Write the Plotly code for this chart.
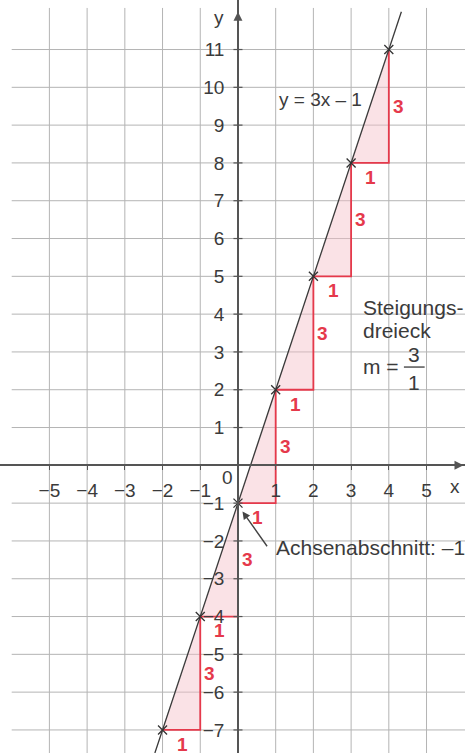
import plotly.graph_objects as go

# Linear function y = m*x + b
slope = 3
intercept = -1

# Points marked on the line and the slope triangles starting at each of them
point_x = [-2, -1, 0, 1, 2, 3, 4]
point_y = [-7, -4, -1, 2, 5, 8, 11]
triangle_start_x = [-2, -1, 0, 1, 2, 3]
triangle_start_y = [-7, -4, -1, 2, 5, 8]
run_label = "1"
rise_label = "3"

# Axis ticks
x_tick_vals = [-5, -4, -3, -2, -1, 1, 2, 3, 4, 5]
x_tick_text = ["−5", "−4", "−3", "−2", "−1", "1", "2", "3", "4", "5"]
y_tick_vals = [11, 10, 9, 8, 7, 6, 5, 4, 3, 2, 1, -1, -2, -3, -4, -5, -6, -7]
y_tick_text = ["11", "10", "9", "8", "7", "6", "5", "4", "3", "2", "1",
               "−1", "−2", "−3", "−4", "−5", "−6", "−7"]

X_RANGE = [-6.31, 6.02]
Y_RANGE = [-7.61, 12.31]

FONT = "Liberation Sans, Arial, sans-serif"
TEXT = "#3b3b3b"
RED = "#e5394b"
PINK = "rgba(244, 190, 200, 0.45)"
GRID = "#b4b4b4"
AXIS = "#555555"

fig = go.Figure()

# Square grid: horizontal lines start at x = -6, vertical lines reach y = 12.1
shapes = []
for gy in range(-7, 12):
    if gy == 0:
        continue
    shapes.append(dict(type="line", xref="x", yref="y", x0=-6, x1=X_RANGE[1],
                       y0=gy, y1=gy, line=dict(color=GRID, width=1), layer="below"))
for gx in range(-5, 6):
    if gx == 0:
        continue
    shapes.append(dict(type="line", xref="x", yref="y", x0=gx, x1=gx,
                       y0=Y_RANGE[0], y1=12.1, line=dict(color=GRID, width=1), layer="below"))

# Short tick marks crossing the y axis
for ty in y_tick_vals:
    shapes.append(dict(type="line", xref="x", yref="y", x0=-0.12, x1=0.12,
                       y0=ty, y1=ty, line=dict(color=AXIS, width=1.2)))

# Fraction bar of m = 3/1
shapes.append(dict(type="line", xref="x", yref="y", x0=4.4, x1=4.95, y0=2.6, y1=2.6,
                   line=dict(color=TEXT, width=1.3)))

# Slope triangles: shaded area plus red run/rise legs
for x0, y0 in zip(triangle_start_x, triangle_start_y):
    fig.add_trace(go.Scatter(
        x=[x0, x0 + 1, x0 + 1, x0], y=[y0, y0, y0 + slope, y0],
        mode="lines", fill="toself", fillcolor=PINK,
        line=dict(width=0, color=PINK), hoverinfo="skip", showlegend=False))
    fig.add_trace(go.Scatter(
        x=[x0, x0 + 1, x0 + 1], y=[y0, y0, y0 + slope],
        mode="lines", line=dict(color=RED, width=1.8),
        hoverinfo="skip", showlegend=False))

# The line y = 3x - 1 across the whole visible range
y_lo, y_hi = Y_RANGE[0], 12.0
line_x = [(y_lo - intercept) / slope, (y_hi - intercept) / slope]
line_y = [y_lo, y_hi]
fig.add_trace(go.Scatter(x=line_x, y=line_y, mode="lines",
                         line=dict(color="#3a3a3a", width=1.3),
                         hoverinfo="skip", showlegend=False))

# Marked points
fig.add_trace(go.Scatter(x=point_x, y=point_y, mode="markers",
                         marker=dict(symbol="x-thin", size=9,
                                     line=dict(color="#333333", width=1.3)),
                         showlegend=False))

annotations = []

# Run and rise labels for every triangle
for x0, y0 in zip(triangle_start_x, triangle_start_y):
    annotations.append(dict(x=x0 + 0.52, y=y0 - 0.38, text=f"<b>{run_label}</b>",
                            showarrow=False, font=dict(family=FONT, size=19, color=RED)))
    annotations.append(dict(x=x0 + 1.25, y=y0 + 1.5, text=f"<b>{rise_label}</b>",
                            showarrow=False, font=dict(family=FONT, size=19, color=RED)))

txt = dict(family=FONT, size=19, color=TEXT)
big = dict(family=FONT, size=21, color=TEXT)
annotations += [
    dict(x=2.2, y=9.67, text="y = 3x – 1", showarrow=False, font=txt),
    dict(x=3.27, y=4.17, text="Steigungs-", showarrow=False, xanchor="left", font=big),
    dict(x=3.27, y=3.58, text="dreieck", showarrow=False, xanchor="left", font=big),
    dict(x=3.27, y=2.62, text="m =", showarrow=False, xanchor="left", font=big),
    dict(x=4.67, y=2.93, text="3", showarrow=False, font=big),
    dict(x=4.67, y=2.2, text="1", showarrow=False, font=big),
    dict(x=0.96, y=-2.18, text="Achsenabschnitt: –1", showarrow=False,
         xanchor="left", font=big),
    dict(x=-0.29, y=-0.33, text="0", showarrow=False, font=txt),
    dict(x=5.76, y=-0.57, text="x", showarrow=False, font=txt),
    dict(x=-0.5, y=11.84, text="y", showarrow=False, font=txt),
    # pointer to the y-intercept
    dict(x=0.12, y=-1.22, ax=0.8, ay=-2.18, xref="x", yref="y", axref="x", ayref="y",
         text="", showarrow=True, arrowhead=2, arrowsize=1.1, arrowwidth=1.4,
         arrowcolor="#444444"),
    # axis arrow tips
    dict(x=5.98, y=0, ax=5.6, ay=0, xref="x", yref="y", axref="x", ayref="y",
         text="", showarrow=True, arrowhead=2, arrowsize=1.2, arrowwidth=1.5,
         arrowcolor=AXIS),
    dict(x=0, y=12.0, ax=0, ay=11.6, xref="x", yref="y", axref="x", ayref="y",
         text="", showarrow=True, arrowhead=2, arrowsize=1.2, arrowwidth=1.5,
         arrowcolor=AXIS),
]

x0_frac = (0 - X_RANGE[0]) / (X_RANGE[1] - X_RANGE[0])
y0_frac = (0 - Y_RANGE[0]) / (Y_RANGE[1] - Y_RANGE[0])

fig.update_layout(
    width=465, height=753,
    margin=dict(l=0, r=0, t=0, b=0),
    paper_bgcolor="white", plot_bgcolor="white",
    shapes=shapes, annotations=annotations,
    showlegend=False,
    xaxis=dict(range=X_RANGE, showgrid=False, zeroline=False,
               anchor="free", position=y0_frac,
               showline=True, linecolor=AXIS, linewidth=1.6,
               tickmode="array", tickvals=x_tick_vals, ticktext=x_tick_text,
               ticks="outside", ticklen=4, tickcolor=AXIS,
               ticklabelstandoff=4,
               tickfont=dict(family=FONT, size=19, color=TEXT)),
    yaxis=dict(range=Y_RANGE, showgrid=False, zeroline=False,
               anchor="free", position=x0_frac,
               showline=True, linecolor=AXIS, linewidth=1.6,
               tickmode="array", tickvals=y_tick_vals, ticktext=y_tick_text,
               ticks="", ticklabelstandoff=9,
               tickfont=dict(family=FONT, size=19, color=TEXT)),
)

fig.write_html("out.html")
